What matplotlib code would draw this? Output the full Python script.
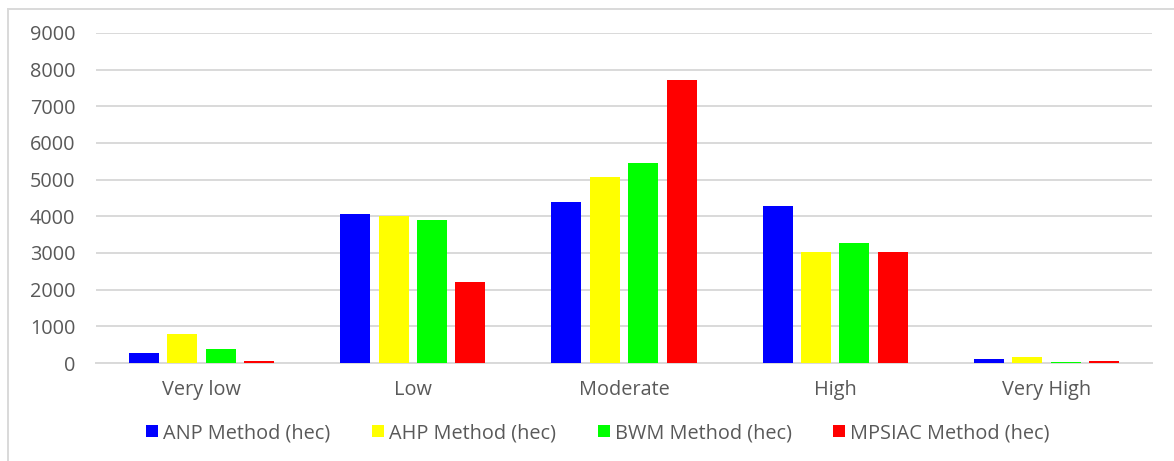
import matplotlib
matplotlib.use("Agg")
import matplotlib.pyplot as plt
import numpy as np
from matplotlib.patches import Rectangle
from matplotlib.lines import Line2D

categories = ["Very low", "Low", "Moderate", "High", "Very High"]
anp = [270, 4050, 4400, 4280, 120]
ahp = [790, 4020, 5060, 3040, 170]
bwm = [380, 3910, 5460, 3260, 40]
mpsiac = [65, 2200, 7720, 3040, 65]
series_names = ["ANP Method (hec)", "AHP Method (hec)", "BWM Method (hec)", "MPSIAC Method (hec)"]
colors = ["#0000FF", "#FFFF00", "#00FF00", "#FF0000"]
yticks = [0, 1000, 2000, 3000, 4000, 5000, 6000, 7000, 8000, 9000]

txt = "#595959"
grid = "#D9D9D9"
plt.rcParams['font.family'] = ['Open Sans', 'DejaVu Sans']
fs = 14.3

W, H = 1174, 461
fig = plt.figure(figsize=(W / 100, H / 100), dpi=100)
ax = fig.add_axes([96 / W, 1 - 363 / H, (1152 - 96) / W, (363 - 33) / H])

x = np.arange(len(categories))
pitch = 0.182
bw = 0.142
data = [anp, ahp, bwm, mpsiac]
for i, (vals, c) in enumerate(zip(data, colors)):
    ax.bar(x + (i - 1.5) * pitch, vals, width=bw, color=c, zorder=3)

ax.set_xlim(-0.5, len(categories) - 0.5)
ax.set_ylim(0, 9000)
ax.set_yticks(yticks)
ax.set_yticklabels([str(v) for v in yticks])
ax.set_xticks(x)
ax.set_xticklabels(categories)
ax.tick_params(axis='both', length=0, colors=txt, labelsize=fs)
ax.tick_params(axis='y', pad=15)
ax.tick_params(axis='x', pad=12.5)
ax.yaxis.grid(True, color=grid, linewidth=1.4, zorder=0)
for s in ['top', 'right', 'left']:
    ax.spines[s].set_visible(False)
ax.spines['bottom'].set_color(grid)
ax.spines['bottom'].set_linewidth(1.4)
ax.set_facecolor('white')

# outer chart frame
fig.add_artist(Line2D([7.5 / W, 7.5 / W], [0, 1 - 9 / H], transform=fig.transFigure, color=grid, lw=1.4))
fig.add_artist(Line2D([7.5 / W, 1], [1 - 9 / H, 1 - 9 / H], transform=fig.transFigure, color=grid, lw=1.4))

handles = [Rectangle((0, 0), 1, 1, facecolor=c, edgecolor='none') for c in colors]
fig.legend(handles, series_names, loc='center', bbox_to_anchor=(598 / W, 1 - 433 / H),
           ncol=4, frameon=False, fontsize=fs, handlelength=0.6, handleheight=0.6,
           handletextpad=0.25, columnspacing=2.1, labelcolor=txt)

fig.savefig("out.png", dpi=100, facecolor='white')
